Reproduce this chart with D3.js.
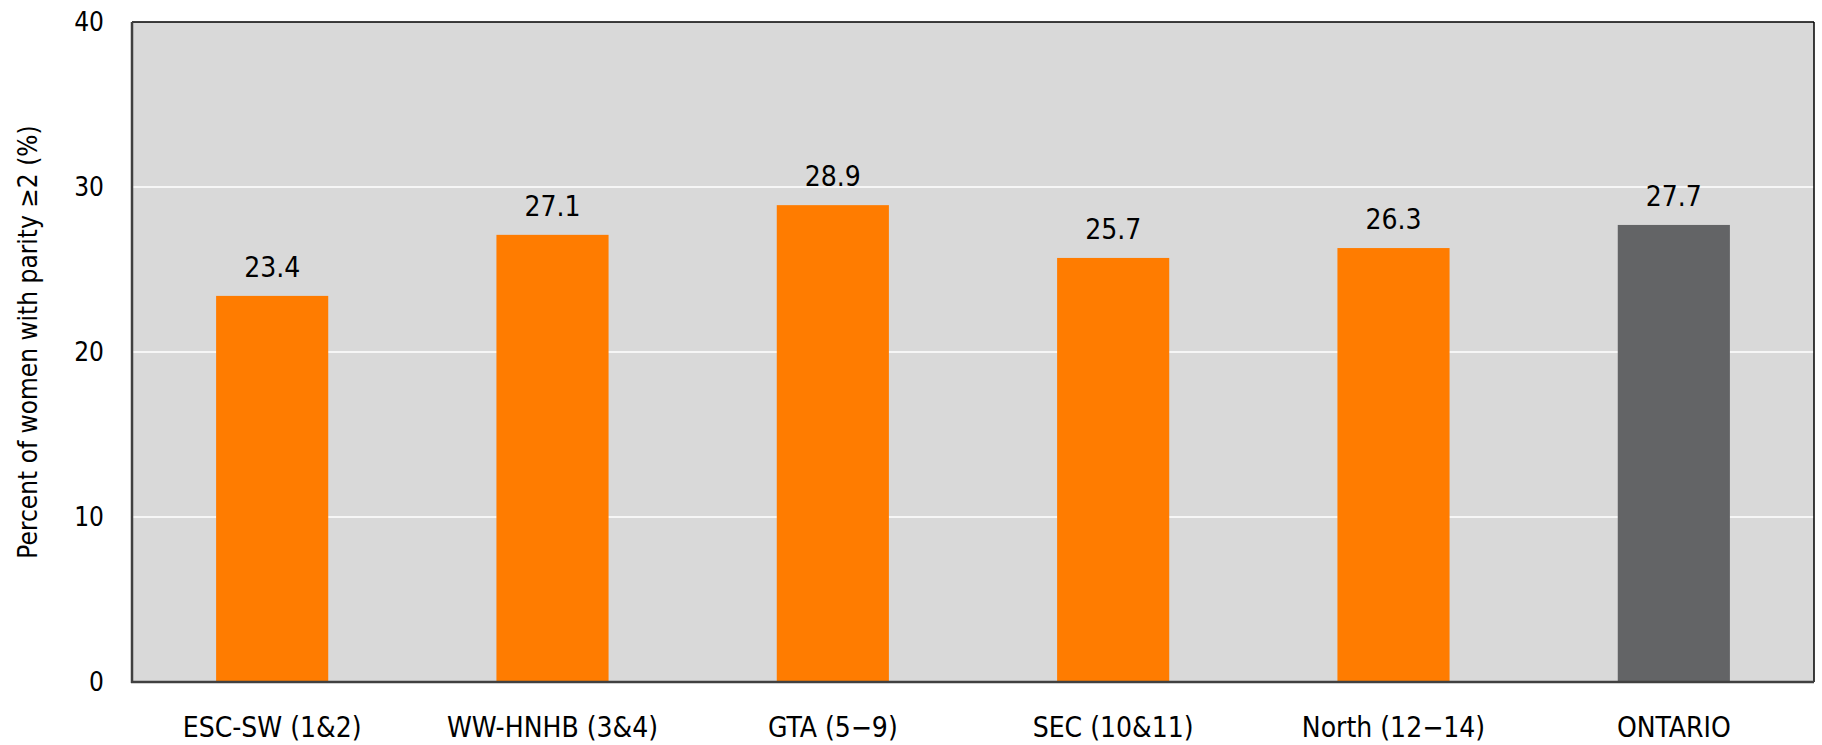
<!DOCTYPE html>
<html>
<head>
<meta charset="utf-8">
<script src="https://cdn.jsdelivr.net/npm/d3@7"></script>
<style>
  body { margin: 0; background: #fff; }
  svg text { font-family: "DejaVu Sans Condensed", "DejaVu Sans", sans-serif; font-stretch: condensed; fill: #000; }
</style>
</head>
<body>
<div id="visual"></div>
<script>
// chart data
var regions = ["ESC-SW (1&2)", "WW-HNHB (3&4)", "GTA (5\u22129)", "SEC (10&11)", "North (12\u221214)", "ONTARIO"];
var percents = [23.4, 27.1, 28.9, 25.7, 26.3, 27.7];
var yTicks = [0, 10, 20, 30, 40];
var yTitle = "Percent of women with parity \u22652 (%)";

function chart() {
    var w = 1822, h = 745;
    var left = 132, right = 1814, top = 22, bottom = 682;

    var svg = d3.select("#visual").append("svg").attr("width", w).attr("height", h);

    var xScale = d3.scaleBand()
        .domain(regions)
        .range([left, right])
        .paddingInner(0.6)
        .paddingOuter(0.3);

    var yScale = d3.scaleLinear()
        .domain([0, 40])
        .range([bottom, top]);

    // plot background
    svg.append("rect")
        .attr("x", left).attr("y", top)
        .attr("width", right - left).attr("height", bottom - top)
        .attr("fill", "#d9d9d9");

    // gridlines
    svg.selectAll(".grid")
        .data(yTicks.filter(function (d) { return d > 0 && d < 40; }))
        .enter()
        .append("line")
        .attr("x1", left).attr("x2", right)
        .attr("y1", function (d) { return yScale(d); })
        .attr("y2", function (d) { return yScale(d); })
        .attr("stroke", "#ffffff")
        .attr("stroke-width", 1.5);

    // bars
    svg.selectAll(".bar")
        .data(percents)
        .enter()
        .append("rect")
        .attr("x", function (d, i) { return xScale(regions[i]); })
        .attr("y", function (d) { return yScale(d); })
        .attr("width", xScale.bandwidth())
        .attr("height", function (d) { return yScale(0) - yScale(d); })
        .attr("fill", function (d, i) { return regions[i] == "ONTARIO" ? "#636466" : "#ff7c00"; });

    // value labels
    svg.selectAll(".val")
        .data(percents)
        .enter()
        .append("text")
        .attr("x", function (d, i) { return xScale(regions[i]) + xScale.bandwidth() / 2; })
        .attr("y", function (d) { return yScale(d) - 19; })
        .attr("text-anchor", "middle")
        .attr("font-size", "28px")
        .text(function (d) { return d3.format(".1f")(d); });

    // frame: top and right thin black, left and bottom dark grey
    svg.append("line").attr("x1", left).attr("x2", right).attr("y1", top).attr("y2", top)
        .attr("stroke", "#000").attr("stroke-width", 1.5);
    svg.append("line").attr("x1", right).attr("x2", right).attr("y1", top).attr("y2", bottom)
        .attr("stroke", "#000").attr("stroke-width", 1.5);
    svg.append("line").attr("x1", left).attr("x2", left).attr("y1", top).attr("y2", bottom + 1)
        .attr("stroke", "#404040").attr("stroke-width", 2.5);
    svg.append("line").attr("x1", left - 1).attr("x2", right).attr("y1", bottom).attr("y2", bottom)
        .attr("stroke", "#404040").attr("stroke-width", 2.5);

    // y tick labels
    svg.selectAll(".ytick")
        .data(yTicks)
        .enter()
        .append("text")
        .attr("x", 104)
        .attr("y", function (d) { return yScale(d); })
        .attr("dy", "0.36em")
        .attr("text-anchor", "end")
        .attr("font-size", "26px")
        .text(function (d) { return d; });

    // x labels
    svg.selectAll(".xlab")
        .data(regions)
        .enter()
        .append("text")
        .attr("x", function (d) { return xScale(d) + xScale.bandwidth() / 2; })
        .attr("y", 737)
        .attr("text-anchor", "middle")
        .attr("font-size", "28px")
        .text(function (d) { return d; });

    // y title
    svg.append("text")
        .attr("transform", "translate(37,342) rotate(-90)")
        .attr("text-anchor", "middle")
        .attr("font-size", "26px")
        .text(yTitle);
}

chart();
</script>
</body>
</html>
